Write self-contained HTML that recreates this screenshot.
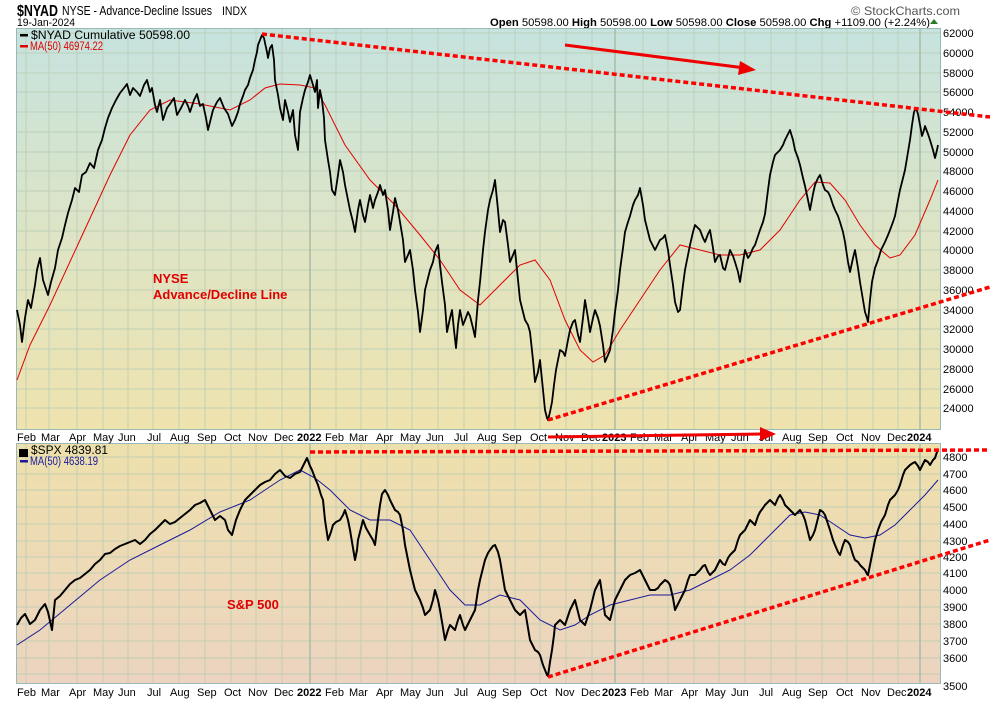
<!DOCTYPE html>
<html><head><meta charset="utf-8"><style>
body{margin:0;background:#fff;width:990px;height:700px;overflow:hidden;font-family:"Liberation Sans",Arial,sans-serif}
svg text{font-family:"Liberation Sans",Arial,sans-serif}
</style></head><body>
<svg width="990" height="700" viewBox="0 0 990 700" xmlns="http://www.w3.org/2000/svg">
<defs>
<linearGradient id="gt" x1="0" y1="0" x2="0" y2="1"><stop offset="0" stop-color="#c6e3df"/><stop offset="0.5" stop-color="#dde4c6"/><stop offset="1" stop-color="#efe3ae"/></linearGradient>
<linearGradient id="gb" x1="0" y1="0" x2="0" y2="1"><stop offset="0" stop-color="#eee0ac"/><stop offset="1" stop-color="#ecd4c0"/></linearGradient>
</defs>
<text x="17" y="16" font-size="16" font-weight="bold" fill="#000" textLength="41" lengthAdjust="spacingAndGlyphs">$NYAD</text>
<text x="62" y="15" font-size="12.5" textLength="150" lengthAdjust="spacingAndGlyphs">NYSE - Advance-Decline Issues</text>
<text x="222" y="15" font-size="11.5" textLength="25" lengthAdjust="spacingAndGlyphs">INDX</text>
<text x="17" y="26" font-size="11" textLength="58" lengthAdjust="spacingAndGlyphs">19-Jan-2024</text>
<text x="851" y="15" font-size="12" fill="#555" textLength="109" lengthAdjust="spacingAndGlyphs">© StockCharts.com</text>
<text x="490" y="26" font-size="11" textLength="440" lengthAdjust="spacingAndGlyphs"><tspan font-weight="bold">Open</tspan> 50598.00 <tspan font-weight="bold">High</tspan> 50598.00 <tspan font-weight="bold">Low</tspan> 50598.00 <tspan font-weight="bold">Close</tspan> 50598.00 <tspan font-weight="bold">Chg</tspan> +1109.00 (+2.24%)</text>
<polygon points="930,24 934,19 938,24" fill="#2a7a2a"/>

<rect x="16.5" y="28.5" width="924" height="401" fill="url(#gt)" stroke="#9bb8b8"/>
<rect x="16.5" y="443.5" width="924" height="240" fill="url(#gb)" stroke="#9bb8b8"/>
<g stroke="#b9ccb4" stroke-width="1" opacity="0.8">
<path d="M26 29V429M49 29V429M77 29V429M103 29V429M128 29V429M153 29V429M179 29V429M205 29V429M231 29V429M256 29V429M282 29V429M336 29V429M361 29V429M387 29V429M412 29V429M438 29V429M464 29V429M489 29V429M515 29V429M540 29V429M566 29V429M592 29V429M643 29V429M668 29V429M694 29V429M719 29V429M745 29V429M771 29V429M796 29V429M822 29V429M847 29V429M873 29V429M898 29V429"/>
<path d="M26 444V683M49 444V683M77 444V683M103 444V683M128 444V683M153 444V683M179 444V683M205 444V683M231 444V683M256 444V683M282 444V683M336 444V683M361 444V683M387 444V683M412 444V683M438 444V683M464 444V683M489 444V683M515 444V683M540 444V683M566 444V683M592 444V683M643 444V683M668 444V683M694 444V683M719 444V683M745 444V683M771 444V683M796 444V683M822 444V683M847 444V683M873 444V683M898 444V683"/>
<path d="M17 33H940M17 53H940M17 73H940M17 92H940M17 112H940M17 132H940M17 152H940M17 171H940M17 191H940M17 211H940M17 231H940M17 250H940M17 270H940M17 290H940M17 310H940M17 329H940M17 349H940M17 369H940M17 389H940M17 408H940"/>
<path d="M17 457H940M17 474H940M17 490H940M17 507H940M17 524H940M17 541H940M17 557H940M17 573H940M17 590H940M17 607H940M17 624H940M17 641H940M17 658H940M17 674H940"/>
</g>
<path d="M310 29V429M615 29V429M920 29V429M310 444V683M615 444V683M920 444V683" stroke="#a8bca8" stroke-width="1.5"/>

<g font-size="11" fill="#000">
<text x="943" y="37">62000</text><text x="943" y="57">60000</text><text x="943" y="77">58000</text><text x="943" y="96">56000</text><text x="943" y="116">54000</text><text x="943" y="136">52000</text><text x="943" y="156">50000</text><text x="943" y="175">48000</text><text x="943" y="195">46000</text><text x="943" y="215">44000</text><text x="943" y="235">42000</text><text x="943" y="254">40000</text><text x="943" y="274">38000</text><text x="943" y="294">36000</text><text x="943" y="314">34000</text><text x="943" y="333">32000</text><text x="943" y="353">30000</text><text x="943" y="373">28000</text><text x="943" y="393">26000</text><text x="943" y="412">24000</text>
<text x="943" y="461">4800</text><text x="943" y="478">4700</text><text x="943" y="494">4600</text><text x="943" y="511">4500</text><text x="943" y="528">4400</text><text x="943" y="545">4300</text><text x="943" y="561">4200</text><text x="943" y="577">4100</text><text x="943" y="594">4000</text><text x="943" y="611">3900</text><text x="943" y="628">3800</text><text x="943" y="645">3700</text><text x="943" y="662">3600</text><text x="943" y="690">3500</text>
</g>
<g font-size="11" fill="#000">
<text x="17" y="441">Feb</text><text x="41" y="441">Mar</text><text x="69" y="441">Apr</text><text x="93" y="441">May</text><text x="118" y="441">Jun</text><text x="147" y="441">Jul</text><text x="170" y="441">Aug</text><text x="197" y="441">Sep</text><text x="224" y="441">Oct</text><text x="248" y="441">Nov</text><text x="274" y="441">Dec</text><text x="297" y="441" font-weight="bold">2022</text><text x="325" y="441">Feb</text><text x="349" y="441">Mar</text><text x="376" y="441">Apr</text><text x="400" y="441">May</text><text x="426" y="441">Jun</text><text x="454" y="441">Jul</text><text x="477" y="441">Aug</text><text x="502" y="441">Sep</text><text x="530" y="441">Oct</text><text x="555" y="441">Nov</text><text x="581" y="441">Dec</text><text x="602" y="441" font-weight="bold">2023</text><text x="630" y="441">Feb</text><text x="654" y="441">Mar</text><text x="681" y="441">Apr</text><text x="705" y="441">May</text><text x="731" y="441">Jun</text><text x="759" y="441">Jul</text><text x="782" y="441">Aug</text><text x="808" y="441">Sep</text><text x="836" y="441">Oct</text><text x="861" y="441">Nov</text><text x="887" y="441">Dec</text><text x="907" y="441" font-weight="bold">2024</text>
</g>
<g font-size="11" fill="#000" transform="translate(0,255)">
<text x="17" y="441">Feb</text><text x="41" y="441">Mar</text><text x="69" y="441">Apr</text><text x="93" y="441">May</text><text x="118" y="441">Jun</text><text x="147" y="441">Jul</text><text x="170" y="441">Aug</text><text x="197" y="441">Sep</text><text x="224" y="441">Oct</text><text x="248" y="441">Nov</text><text x="274" y="441">Dec</text><text x="297" y="441" font-weight="bold">2022</text><text x="325" y="441">Feb</text><text x="349" y="441">Mar</text><text x="376" y="441">Apr</text><text x="400" y="441">May</text><text x="426" y="441">Jun</text><text x="454" y="441">Jul</text><text x="477" y="441">Aug</text><text x="502" y="441">Sep</text><text x="530" y="441">Oct</text><text x="555" y="441">Nov</text><text x="581" y="441">Dec</text><text x="602" y="441" font-weight="bold">2023</text><text x="630" y="441">Feb</text><text x="654" y="441">Mar</text><text x="681" y="441">Apr</text><text x="705" y="441">May</text><text x="731" y="441">Jun</text><text x="759" y="441">Jul</text><text x="782" y="441">Aug</text><text x="808" y="441">Sep</text><text x="836" y="441">Oct</text><text x="861" y="441">Nov</text><text x="887" y="441">Dec</text><text x="907" y="441" font-weight="bold">2024</text>
</g>

<polyline fill="none" stroke="#e00000" stroke-width="1" points="17,380 30,345 50,305 80,240 110,175 130,135 150,110 170,100 200,104 230,110 250,100 265,88 280,84 300,85 315,88 325,105 345,145 370,180 395,205 420,235 440,260 460,290 480,305 500,285 520,265 535,260 550,280 565,320 580,350 593,362 605,355 620,330 640,300 660,270 680,245 700,250 720,255 740,255 760,250 780,230 800,200 815,182 830,183 845,200 860,225 875,245 890,258 900,255 915,235 930,200 938,180"/>
<polyline fill="none" stroke="#000" stroke-width="1.8" stroke-linejoin="round" points="17,310 20,325 22,342 25,318 28,300 31,308 35,285 37,270 40,258 43,280 48,295 51,282 55,268 58,250 62,238 65,225 68,213 72,200 75,188 79,192 82,175 86,172 90,163 94,168 98,150 102,140 105,128 108,118 112,108 116,100 120,93 124,88 127,84 130,95 133,88 137,92 140,96 144,85 147,80 150,92 152,88 155,105 157,112 160,100 163,120 167,108 170,104 174,98 177,115 181,108 185,100 188,106 190,112 194,100 197,94 200,106 203,104 206,118 208,130 211,118 213,110 217,102 220,98 224,108 228,114 232,126 235,120 238,112 240,104 243,96 245,90 248,85 250,78 253,70 255,60 257,52 258,45 260,40 262,35 264,38 265,43 267,52 268,58 270,48 272,45 274,60 275,80 278,95 280,108 283,120 285,100 288,112 290,122 293,110 295,135 298,150 300,112 303,98 305,90 308,82 310,75 313,85 315,92 317,80 318,108 320,90 322,100 324,118 325,140 328,160 330,172 332,190 335,195 338,175 340,160 343,172 345,185 348,200 350,210 353,222 355,232 358,210 360,200 363,215 365,222 368,205 370,195 373,208 375,200 378,192 380,185 383,195 385,190 388,210 390,230 393,212 395,198 398,210 400,222 403,240 405,262 408,255 410,250 413,270 415,290 418,312 420,332 423,310 425,290 428,278 430,270 433,262 435,252 438,245 440,265 442,282 445,305 447,332 450,318 452,310 454,330 456,348 458,325 460,310 463,325 465,320 468,312 470,316 473,328 475,337 478,300 480,282 483,250 485,232 488,210 490,200 493,190 495,180 498,210 500,232 503,220 505,222 508,245 510,262 513,255 515,250 518,280 520,300 523,312 525,320 528,325 530,332 533,360 535,382 538,372 540,360 543,390 545,410 547,418 548,420 550,412 552,402 554,385 556,370 558,360 560,350 563,352 565,356 568,340 570,330 573,322 575,320 578,335 580,342 583,318 585,300 588,318 590,332 593,318 595,310 598,318 600,326 603,345 605,362 608,355 610,350 613,330 615,312 618,290 620,270 623,248 625,232 628,222 630,216 633,205 635,200 638,195 640,188 643,205 645,220 648,232 650,240 653,246 655,250 658,244 660,240 663,238 665,235 668,250 670,265 673,285 675,302 678,312 680,310 683,285 685,270 688,255 690,245 693,232 695,225 698,228 700,230 703,238 705,242 708,234 710,230 713,248 715,262 718,256 720,255 723,268 725,270 728,258 730,250 733,256 735,262 738,272 740,282 743,262 745,250 748,258 750,255 753,248 755,245 758,236 760,230 763,222 765,214 768,190 770,175 773,162 775,155 778,152 780,150 783,145 785,140 788,134 790,130 793,140 795,150 798,158 800,165 803,178 805,186 808,200 810,210 813,194 815,185 818,178 820,175 823,185 825,190 828,192 830,196 833,205 835,210 838,216 840,222 843,232 845,242 848,262 850,272 853,258 855,250 858,268 860,282 863,300 865,312 867,318 868,322 870,300 872,282 875,268 878,260 881,250 885,242 888,235 890,230 893,222 895,216 898,200 900,190 903,178 905,170 908,152 910,140 912,125 914,112 916,108 918,114 920,125 922,136 924,130 925,126 928,134 930,140 933,150 935,158 937,150 938,145"/>

<polyline fill="none" stroke="#1a1a9a" stroke-width="1" points="17,645 40,630 70,605 100,580 130,560 160,545 190,530 220,512 250,500 280,480 300,470 315,478 330,490 350,510 370,520 390,520 410,530 430,560 450,590 465,605 480,605 500,595 520,600 540,620 560,630 575,625 590,615 610,605 630,600 650,595 670,595 690,590 710,580 730,570 750,555 770,535 790,515 805,512 820,515 835,525 850,535 865,538 880,535 895,525 910,510 925,495 938,480"/>
<polyline fill="none" stroke="#000" stroke-width="2" stroke-linejoin="round" points="17,625 21,618 25,614 30,624 35,620 40,610 45,604 48,612 52,630 55,600 60,596 65,590 70,584 75,580 80,578 85,574 90,570 95,564 100,560 105,554 110,553 115,549 120,546 125,544 130,542 135,540 140,544 145,540 150,534 155,530 160,525 165,520 170,524 175,522 180,518 185,514 190,510 195,505 200,503 205,500 210,510 215,520 220,516 225,520 228,530 232,535 236,520 240,510 245,500 250,495 255,490 260,485 265,482 270,480 275,474 280,470 285,476 290,478 295,474 300,472 304,464 307,458 310,466 312,470 315,478 318,485 321,495 323,500 325,520 328,540 331,532 333,525 336,522 340,520 343,515 345,510 348,520 350,530 353,548 355,560 357,550 358,540 361,528 363,520 366,528 370,535 373,540 375,545 378,520 380,505 382,494 385,490 388,495 390,500 393,506 395,510 398,512 400,515 403,530 405,545 408,560 410,570 413,582 415,590 418,596 420,600 423,608 425,615 428,612 430,610 433,600 435,590 438,600 440,610 443,628 445,640 448,630 450,625 453,628 455,630 458,620 460,615 463,625 465,630 468,624 470,620 473,614 475,610 478,590 480,580 483,568 485,560 488,553 490,550 493,546 495,545 498,552 500,560 503,578 505,590 508,596 510,600 513,606 515,610 518,613 520,615 523,612 525,610 528,628 530,640 533,646 535,650 538,652 540,655 543,665 545,670 547,675 548,676 550,662 552,650 554,635 555,625 558,622 560,620 563,623 565,625 568,616 570,610 573,604 575,600 578,612 580,620 583,623 585,625 588,616 590,610 593,598 595,590 598,584 600,580 603,600 605,615 608,618 610,620 613,608 615,600 618,594 620,590 623,584 625,580 628,577 630,575 635,573 640,570 643,576 645,580 648,586 650,590 655,590 658,588 660,585 663,582 665,580 668,582 670,585 673,598 675,610 678,604 680,600 683,594 685,590 688,580 690,575 695,575 698,572 700,570 703,566 705,565 708,572 710,575 713,572 715,570 718,564 720,560 723,564 725,565 728,558 730,555 733,552 735,550 738,540 740,535 743,532 745,530 748,524 750,520 753,523 755,525 758,516 760,512 763,508 765,505 768,502 770,500 773,503 775,505 778,498 780,495 783,500 785,505 788,508 790,510 793,513 795,515 798,512 800,510 803,515 805,520 808,532 810,540 813,535 815,530 818,518 820,510 823,512 825,515 828,524 830,530 833,540 835,545 838,552 840,555 843,545 845,540 848,542 850,545 853,555 855,560 858,562 860,565 863,568 865,570 867,574 868,575 870,565 872,555 875,540 878,530 881,522 885,515 888,505 890,500 893,497 895,495 898,490 900,485 903,475 905,470 908,467 910,465 913,463 915,462 918,466 920,470 923,464 925,460 928,462 930,465 933,460 935,458 937,452 938,450"/>

<g stroke="#ff0000" stroke-width="3.5" stroke-dasharray="5,3" fill="none">
<line x1="262" y1="34" x2="990" y2="117"/>
<line x1="548" y1="420" x2="990" y2="287"/>
<line x1="310" y1="452" x2="990" y2="450"/>
<line x1="548" y1="677" x2="990" y2="540"/>
</g>
<g stroke="#ee0000" stroke-width="3" fill="#ee0000">
<line x1="565" y1="45" x2="745" y2="68"/>
<polygon points="756,70 740,61 738,75" stroke="none"/>
<line x1="548" y1="437" x2="765" y2="434"/>
<polygon points="776,434 760,427 760,441" stroke="none"/>
</g>

<text x="153" y="283" font-size="13" font-weight="bold" fill="#e00000">NYSE</text>
<text x="153" y="299" font-size="13" font-weight="bold" fill="#e00000">Advance/Decline Line</text>
<text x="227" y="609" font-size="13" font-weight="bold" fill="#e00000">S&amp;P 500</text>

<g font-size="11.5">
<rect x="20" y="34" width="8" height="2.5" fill="#000"/>
<text x="31" y="39" fill="#000" textLength="159" lengthAdjust="spacingAndGlyphs">$NYAD Cumulative 50598.00</text>
<rect x="20" y="45" width="8" height="2.5" fill="#e00000"/>
<text x="30" y="50" fill="#e00000" textLength="73" lengthAdjust="spacingAndGlyphs">MA(50) 46974.22</text>
<rect x="19" y="449" width="9" height="8" fill="#000"/>
<text x="31" y="454" fill="#000" textLength="77" lengthAdjust="spacingAndGlyphs">$SPX 4839.81</text>
<rect x="20" y="460" width="8" height="2.5" fill="#1a1a9a"/>
<text x="30" y="465" fill="#1a1a9a" textLength="68" lengthAdjust="spacingAndGlyphs">MA(50) 4638.19</text>
</g>
</svg>
</body></html>
